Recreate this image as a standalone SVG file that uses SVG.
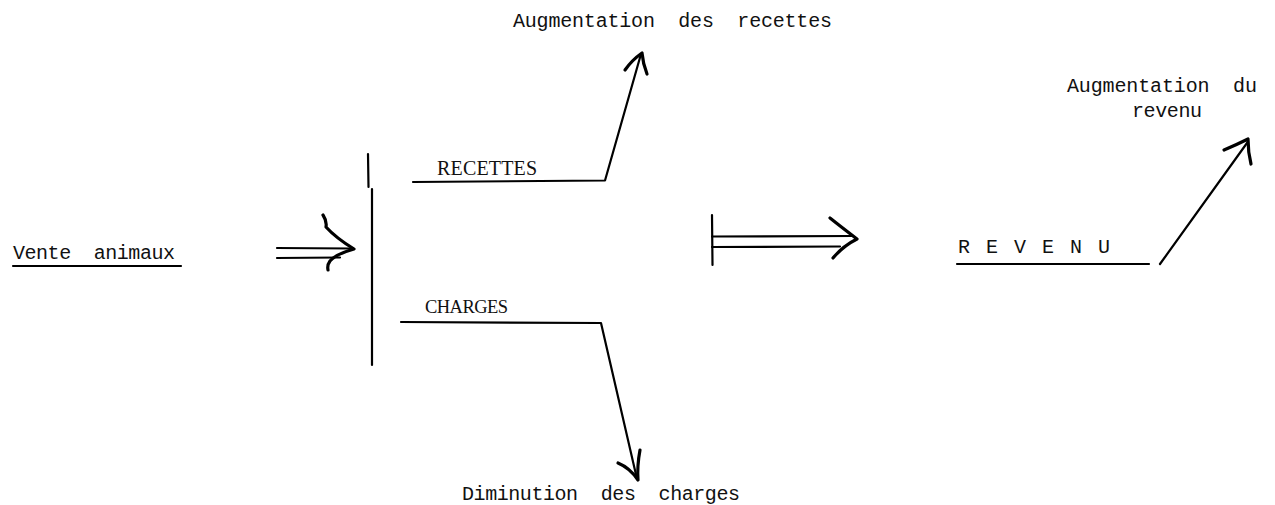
<svg xmlns="http://www.w3.org/2000/svg" width="1275" height="505" viewBox="0 0 1275 505">
<style>
.mono{font-family:"Liberation Mono","DejaVu Sans Mono",monospace;font-size:20px;fill:#111}
.serif{font-family:"Liberation Serif","DejaVu Serif",serif;fill:#111}
.ln{stroke:#000;stroke-width:2.2;fill:none;stroke-linecap:round;stroke-linejoin:round}
.hd{stroke:#000;stroke-width:3.2;fill:none;stroke-linecap:round;stroke-linejoin:round}
</style>
<rect width="1275" height="505" fill="#fff"/>
<g id="vente">
<text class="mono" x="13" y="259" textLength="162" lengthAdjust="spacing" xml:space="preserve">Vente  animaux</text>
<line class="ln" x1="13" y1="266" x2="181" y2="266"/>
</g>
<g id="recettes">
<text class="serif" x="437" y="175" font-size="20" textLength="100" lengthAdjust="spacing">RECETTES</text>
</g>
<g id="charges">
<text class="serif" x="425" y="313" font-size="18.5" textLength="83" lengthAdjust="spacing">CHARGES</text>
</g>
<g id="aug-recettes">
<text class="mono" x="513" y="27" textLength="319" lengthAdjust="spacing" xml:space="preserve">Augmentation  des  recettes</text>
</g>
<g id="dim-charges">
<text class="mono" x="462" y="500" textLength="278" lengthAdjust="spacing" xml:space="preserve">Diminution  des  charges</text>
</g>
<g id="revenu">
<text class="mono" x="958" y="253" textLength="152" lengthAdjust="spacing">R E V E N U</text>
<line class="ln" x1="957" y1="264" x2="1149" y2="264"/>
</g>
<g id="aug-revenu">
<text class="mono" x="1067" y="92" textLength="190" lengthAdjust="spacing" xml:space="preserve">Augmentation  du</text>
<text class="mono" x="1132" y="117" textLength="70" lengthAdjust="spacing">revenu</text>
</g>
<g id="connectors">
<line class="ln" x1="368" y1="154" x2="368.5" y2="187" stroke-width="2.6"/>
<line class="ln" x1="372" y1="189" x2="372" y2="365"/>
<path class="ln" d="M277 248 L352 248.5 M277 258 L340 257.5"/>
<path class="hd" d="M323 215 Q327 221 326 227 Q336 238 354 249 Q336 254 330 261 Q327 265 328 270"/>
<path class="ln" d="M413 182 L605 180.5 L641 54"/>
<path class="hd" d="M625 70 Q632 60 642 53 Q643 64 647 74"/>
<path class="ln" d="M401 322 L601 323 L637 479"/>
<path class="hd" d="M618 463 Q630 468 638 480 Q637 466 640 450"/>
<line class="ln" x1="712" y1="215" x2="712.5" y2="265" stroke-width="2.6"/>
<path class="ln" d="M712 236.5 L853 236 M712 247 L840 246.5"/>
<path class="hd" d="M830 218 Q840 226 857 239 Q843 246 833 258"/>
<path class="ln" d="M1160 264 L1247 143"/>
<path class="hd" d="M1224 150 Q1236 145 1248 139 Q1248 152 1251 164"/>
</g>
</svg>
